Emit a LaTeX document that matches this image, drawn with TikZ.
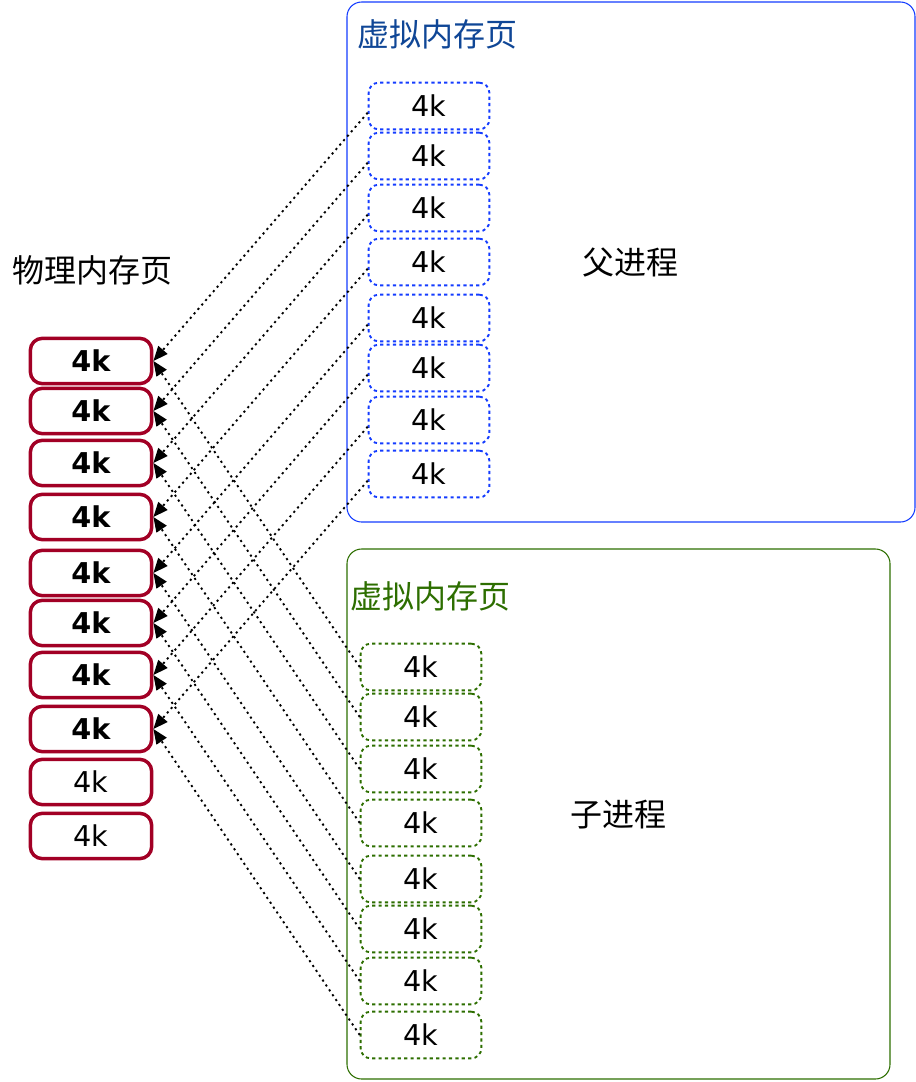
\documentclass[tikz,border=0pt]{standalone}
\usepackage{fontspec}
\setmainfont{DejaVu Sans}
\newfontfamily\cjk{Noto Sans CJK SC}
\usetikzlibrary{arrows.meta}
\definecolor{physred}{HTML}{A20025}
\definecolor{vblue}{RGB}{20,60,255}
\definecolor{tblue}{RGB}{15,70,150}
\definecolor{vgreen}{RGB}{45,110,0}
\tikzset{
  phys/.style={draw=physred, line width=2.6pt, rounded corners=9pt, minimum width=91pt, minimum height=34pt, inner sep=0pt, font=\fontsize{21.5}{24}\selectfont},
  physb/.style={phys, font=\fontsize{21.5}{24}\selectfont\bfseries},
  vpage/.style={line width=1.4pt, dash pattern=on 2.4pt off 2.4pt, rounded corners=7.5pt, minimum width=90.5pt, minimum height=35pt, inner sep=0pt, font=\fontsize{21.5}{24}\selectfont},
  ppage/.style={vpage, draw=vblue},
  cpage/.style={vpage, draw=vgreen},
  outer/.style={line width=0.8pt, rounded corners=11pt},
  cjktext/.style={font=\cjk\fontsize{24}{28}\selectfont, inner sep=0pt},
  link/.style={line width=1.4pt, dash pattern=on 1.6pt off 2.8pt, -{Triangle[length=11pt,width=9pt]}},
}
\begin{document}
\begin{tikzpicture}[x=0.75pt,y=-0.75pt]
\useasboundingbox (0,0) rectangle (916,1082);
% outer boxes
\draw[outer, draw=vblue] (347,2) rectangle (915,522);
\draw[outer, draw=vgreen] (347,549) rectangle (890,1079);
% titles
\node[cjktext, anchor=west, text=tblue] (ptitle) at (357,34) {虚拟内存页};
\node[cjktext, anchor=west, text=vgreen] (ctitle) at (350,596) {虚拟内存页};
\node[cjktext, anchor=west] (phtitle) at (12,270) {物理内存页};
\node[cjktext] (parent) at (630,262) {父进程};
\node[cjktext] (child) at (618,815) {子进程};
% physical pages
\foreach \i/\y in {1/361,2/411,3/463,4/517,5/573,6/623,7/675,8/729}
  \node[physb] (m\i) at (91,\y) {4k};
\node[phys] (m9) at (91,782) {4k};
\node[phys] (m10) at (91,836) {4k};
% parent pages
\foreach \i/\y in {1/106,2/156,3/208,4/262,5/318,6/368,7/420,8/474}
  \node[ppage] (p\i) at (429,\y) {4k};
% child pages
\foreach \i/\y in {1/667,2/717,3/769,4/823,5/879,6/929,7/981,8/1035}
  \node[cpage] (c\i) at (421,\y) {4k};
% links
\foreach \i in {1,...,8}{
  \draw[link] ([yshift=-5pt]p\i.west) -- (m\i.east);
  \draw[link] (c\i.west) -- (m\i.east);
}
\end{tikzpicture}
\end{document}
